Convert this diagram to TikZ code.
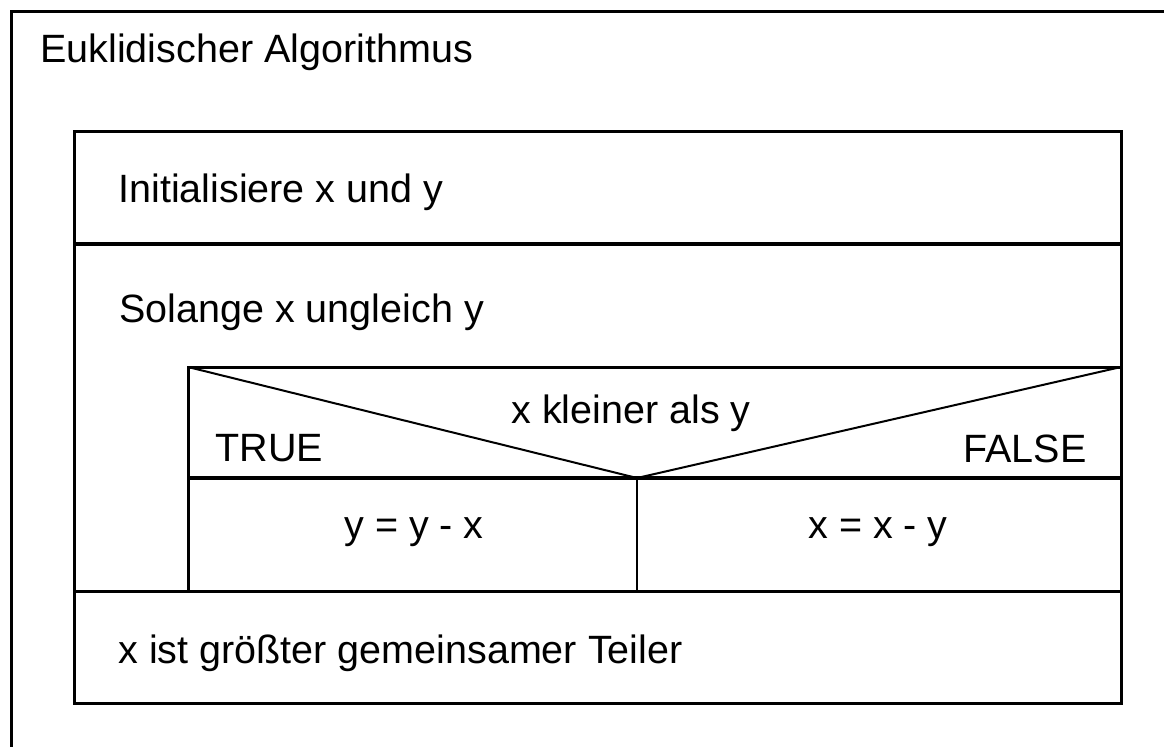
\documentclass[tikz,border=0pt]{standalone}
\usepackage{fontspec}
\setmainfont{Liberation Sans}
\begin{document}
\begin{tikzpicture}[x=0.5pt, y=-0.5pt,
  frame/.style={line width=1.5pt},
  sep/.style={line width=2pt},
  thinline/.style={line width=1pt},
  txt/.style={inner sep=0pt, font=\fontsize{19.75}{24}\selectfont}
]
\useasboundingbox (0,0) rectangle (1164,746);
% corners of the struktogramm
\coordinate (tl) at (74,131);
\coordinate (br) at (1121,703);
\coordinate (ifl) at (188,367);
\coordinate (ifr) at (1121,367);
\coordinate (apex) at (637,478);
\coordinate (hdl) at (188,478);
\coordinate (hdr) at (1121,478);
\coordinate (mid) at (637,591);
\coordinate (endl) at (74,591);
\coordinate (endr) at (1121,591);
\coordinate (ifb) at (188,591);
\coordinate (sepl) at (74,244);
\coordinate (sepr) at (1121,244);

% outer frame
\draw[frame] (11,760) -- (11,11) -- (1180,11);
\node[txt, anchor=base west] (title) at (40,62) {Euklidischer Algorithmus};

\draw[frame] (tl) rectangle (br);
\node[txt, anchor=base west] (init) at (118,202) {Initialisiere x und y};
\draw[sep] (sepl) -- (sepr);
\node[txt, anchor=base west] (loop) at (119,322) {Solange x ungleich y};

% branch
\draw[frame] (ifb) -- (ifl) -- (ifr);
\draw[thinline] (ifl) -- (apex) -- (ifr);
\draw[sep] (hdl) -- (hdr);
\draw[thinline] (apex) -- (mid);
\node[txt, anchor=base] (cond) at (631,423) {x kleiner als y};
\node[txt, anchor=base west] (true) at (215,461) {TRUE};
\node[txt, anchor=base east] (false) at (1087,462) {FALSE};
\node[txt, anchor=base] (yes) at (414,538) {y = y - x};
\node[txt, anchor=base] (no) at (878,538) {x = x - y};

\draw[frame] (endl) -- (endr);
\node[txt, anchor=base west] (result) at (118,663) {x ist größter gemeinsamer Teiler};
\end{tikzpicture}
\end{document}
